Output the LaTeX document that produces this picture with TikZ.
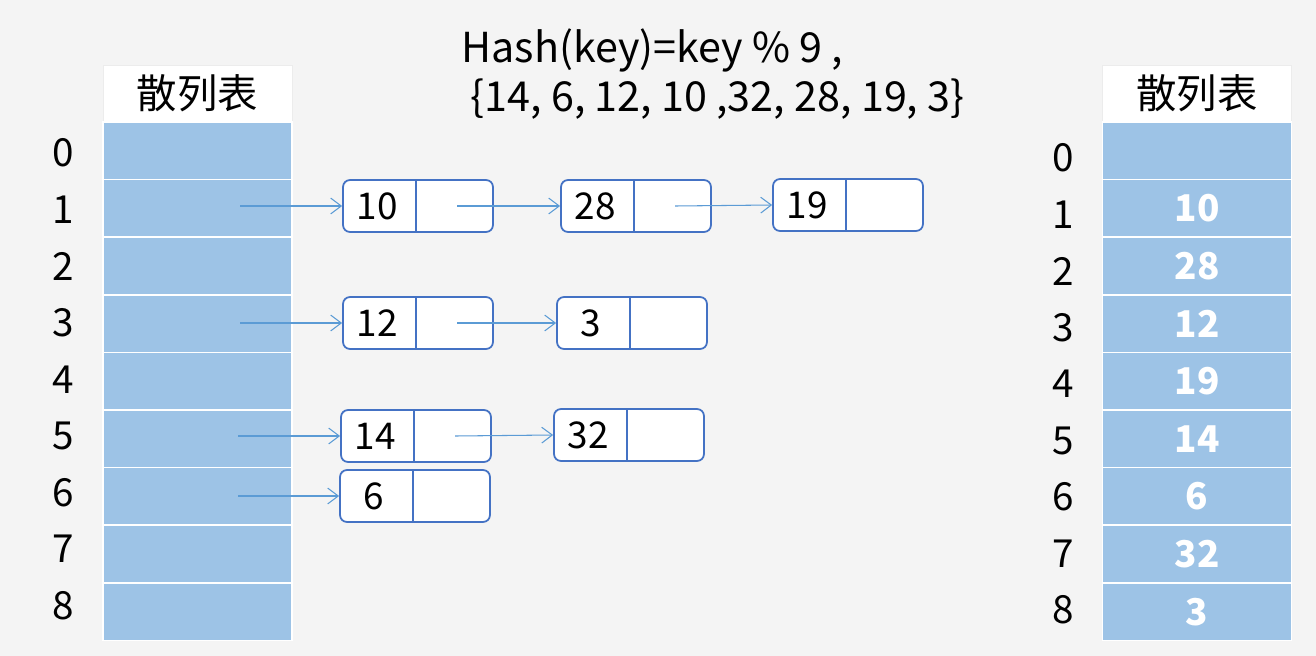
\documentclass[tikz,border=0pt]{standalone}
\usepackage{fontspec}
\setmainfont{Noto Sans CJK SC}
\usetikzlibrary{arrows.meta,positioning}
\definecolor{cellblue}{HTML}{9DC3E6}
\definecolor{linkblue}{HTML}{5B9BD5}
\definecolor{boxblue}{HTML}{4472C4}
\definecolor{bggray}{HTML}{F4F4F4}
\tikzset{
  cell/.style={fill=cellblue,draw=white,line width=1pt,minimum width=3.78cm,minimum height=1.152cm,inner sep=0pt,font=\fontsize{21}{22}\selectfont\bfseries,text=white},
  head/.style={fill=white,draw=gray!15,minimum width=3.78cm,minimum height=1.14cm,inner sep=0pt,font=\fontsize{23}{24}\selectfont},
  idx/.style={font=\fontsize{22}{24}\selectfont},
  keybox/.style={draw=boxblue,line width=1pt,rounded corners=4pt,fill=white,minimum width=3cm,minimum height=1.04cm,inner sep=0pt},
  link/.style={linkblue,line width=0.6pt,-{Straight Barb[length=6pt,width=9pt]}}
}
\newcommand{\keynode}[4]{% name, x, y, key
  \node[keybox] (#1) at (#2,#3) {};
  \draw[boxblue,line width=1pt] ([xshift=1.48cm]#1.north west) -- ([xshift=1.48cm]#1.south west);
  \node[font=\fontsize{21}{22}\selectfont] at ([xshift=0.7cm]#1.west) {#4};
  \coordinate (#1p) at ([xshift=2.3cm]#1.west);
}
\begin{document}
\begin{tikzpicture}[x=0.02cm,y=-0.02cm]
\fill[bggray] (0,0) rectangle (1316,656);
% title
\node[font=\fontsize{23.5}{28}\selectfont,align=left] (title) at (713,74) {Hash(key)=key \% 9 ,\\\ \{14, 6, 12, 10 ,32, 28, 19, 3\}};
% left table
\node[head] (lhead) at (197.5,93.5) {散列表};
\foreach \i in {0,...,8}{
  \node[cell] (l\i) at (197.5,{122+57.6*(\i+0.5)}) {};
  \node[idx] (li\i) at (63,{153+56.6*\i}) {\i};
}
% right table
\node[head] (rhead) at (1197,93.5) {散列表};
\foreach \i/\v in {0/,1/10,2/28,3/12,4/19,5/14,6/6,7/32,8/3}{
  \node[cell] (r\i) at (1197,{122+57.6*(\i+0.5)}) {\v};
  \node[idx] (ri\i) at (1063,{158+56.5*\i}) {\i};
}
% chains
\keynode{k10}{418}{206}{10}
\keynode{k28}{636}{206}{28}
\keynode{k19}{848}{205}{19}
\keynode{k12}{418}{323}{12}
\keynode{k3}{632}{323}{3}
\keynode{k14}{416}{436}{14}
\keynode{k32}{629}{435}{32}
\keynode{k6}{415}{496}{6}
\coordinate (s1) at (240,206);
\coordinate (s3) at (240,323);
\coordinate (s5) at (238,436);
\coordinate (s6) at (238,496);
\draw[link] (s1) -- (k10.west);
\draw[link] (k10p) -- (k28.west);
\draw[link] (k28p) -- (k19.west);
\draw[link] (s3) -- (k12.west);
\draw[link] (k12p) -- (k3.west);
\draw[link] (s5) -- (k14.west);
\draw[link] (k14p) -- (k32.west);
\draw[link] (s6) -- (k6.west);
\end{tikzpicture}
\end{document}
